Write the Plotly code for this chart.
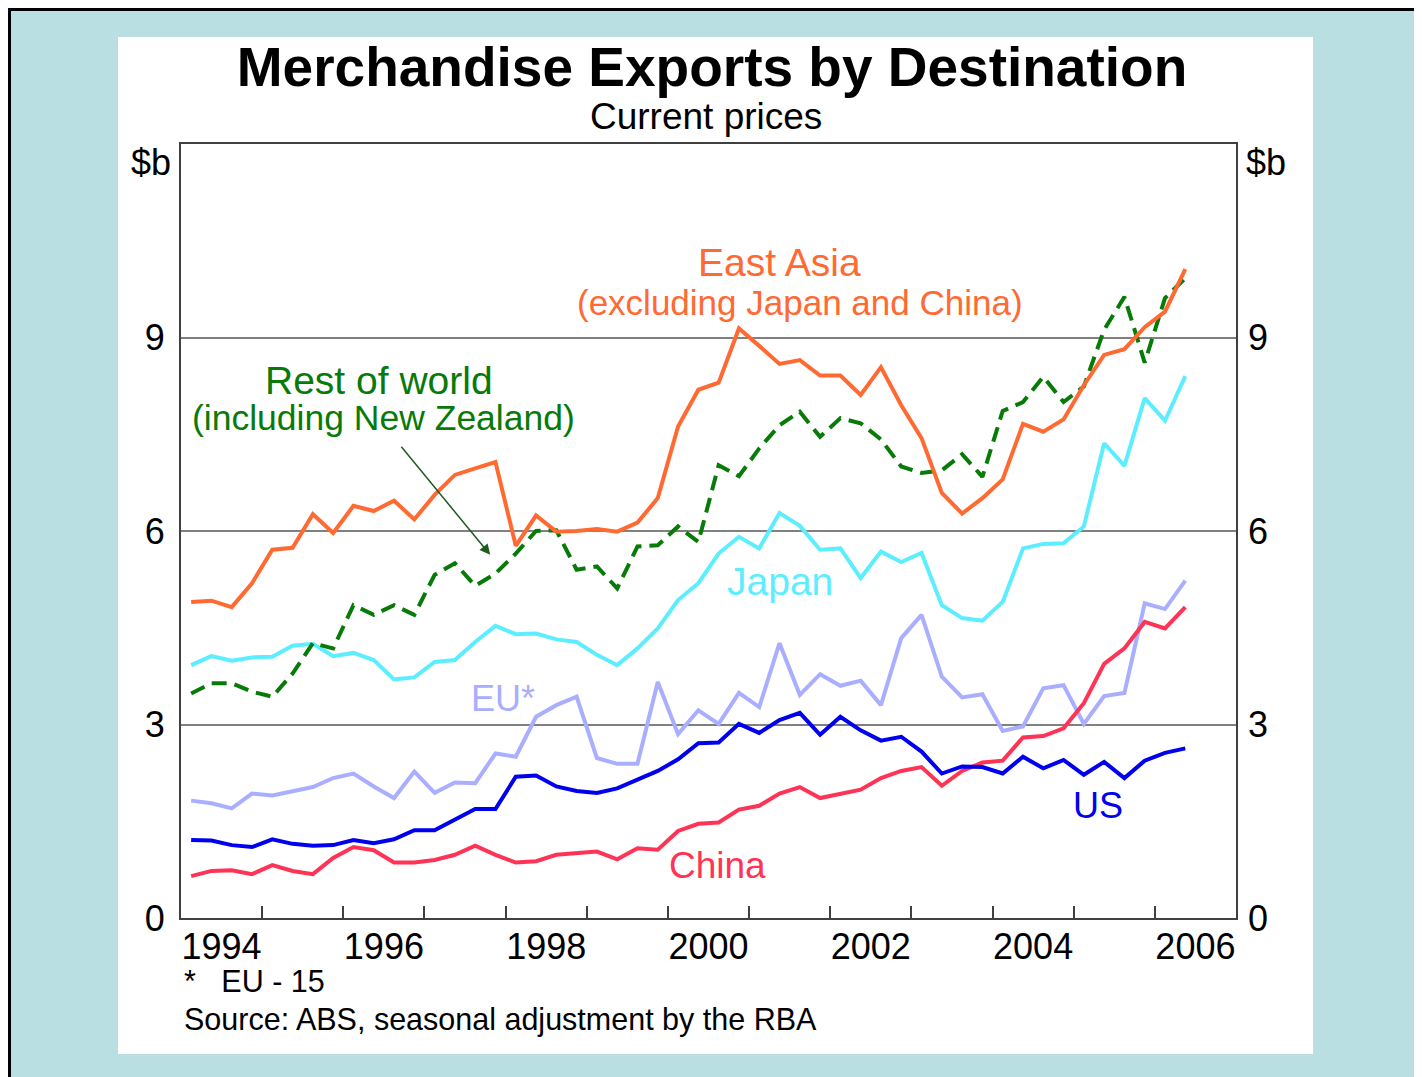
import plotly.graph_objects as go

# quarterly observations, March quarter 1994 to June quarter 2006 ($b, current prices)
start_year = 1994
n_quarters = 50
quarters = [start_year + 0.125 + 0.25 * i for i in range(n_quarters)]

east_asia = [4.90, 4.92, 4.82, 5.19, 5.71, 5.74, 6.26, 5.97, 6.39, 6.31,
             6.47, 6.18, 6.56, 6.87, 6.97, 7.07, 5.77, 6.24, 5.99, 6.00,
             6.03, 5.99, 6.13, 6.51, 7.62, 8.19, 8.30, 9.14, 8.87, 8.59,
             8.65, 8.41, 8.41, 8.11, 8.54, 7.95, 7.44, 6.59, 6.27, 6.51,
             6.80, 7.66, 7.54, 7.73, 8.26, 8.73, 8.82, 9.16, 9.40, 10.06]
rest_of_world = [3.48, 3.64, 3.64, 3.51, 3.43, 3.79, 4.26, 4.18, 4.85, 4.70,
                 4.85, 4.70, 5.32, 5.50, 5.15, 5.34, 5.65, 6.00, 6.01, 5.40,
                 5.45, 5.11, 5.76, 5.78, 6.07, 5.83, 7.02, 6.85, 7.28, 7.64,
                 7.85, 7.46, 7.75, 7.67, 7.42, 7.00, 6.90, 6.94, 7.19, 6.84,
                 7.86, 8.00, 8.39, 8.00, 8.24, 9.12, 9.63, 8.61, 9.61, 9.92]
japan = [3.92, 4.06, 3.99, 4.04, 4.05, 4.22, 4.25, 4.06, 4.11, 4.00,
         3.70, 3.73, 3.97, 4.00, 4.28, 4.53, 4.40, 4.41, 4.32, 4.28,
         4.08, 3.92, 4.18, 4.49, 4.93, 5.19, 5.65, 5.91, 5.73, 6.28,
         6.08, 5.71, 5.73, 5.27, 5.68, 5.52, 5.66, 4.85, 4.65, 4.61,
         4.90, 5.73, 5.80, 5.81, 6.07, 7.36, 7.01, 8.06, 7.71, 8.40]
eu = [1.82, 1.78, 1.70, 1.93, 1.90, 1.96, 2.03, 2.17, 2.24, 2.04,
      1.86, 2.27, 1.94, 2.10, 2.09, 2.55, 2.50, 3.12, 3.30, 3.43,
      2.48, 2.39, 2.39, 3.66, 2.85, 3.22, 3.01, 3.49, 3.27, 4.26,
      3.46, 3.78, 3.60, 3.68, 3.30, 4.34, 4.70, 3.74, 3.42, 3.47,
      2.90, 2.97, 3.56, 3.61, 3.01, 3.44, 3.49, 4.88, 4.79, 5.23]
us = [1.21, 1.20, 1.13, 1.10, 1.22, 1.15, 1.12, 1.13, 1.21, 1.16,
      1.22, 1.36, 1.36, 1.53, 1.69, 1.69, 2.19, 2.21, 2.04, 1.97,
      1.94, 2.01, 2.15, 2.28, 2.46, 2.71, 2.72, 3.01, 2.87, 3.07,
      3.18, 2.84, 3.12, 2.91, 2.75, 2.81, 2.58, 2.24, 2.35, 2.34,
      2.24, 2.50, 2.32, 2.45, 2.22, 2.42, 2.17, 2.44, 2.56, 2.63]
china = [0.65, 0.73, 0.74, 0.68, 0.82, 0.73, 0.68, 0.93, 1.10, 1.05,
         0.86, 0.86, 0.90, 0.98, 1.12, 0.98, 0.86, 0.88, 0.98, 1.00,
         1.03, 0.91, 1.08, 1.06, 1.35, 1.46, 1.48, 1.68, 1.74, 1.93,
         2.03, 1.86, 1.93, 1.99, 2.17, 2.28, 2.34, 2.05, 2.28, 2.41,
         2.44, 2.80, 2.82, 2.94, 3.33, 3.94, 4.18, 4.59, 4.49, 4.82]

year_ticks = list(range(1995, 2007))
year_labels = ["1994", "1996", "1998", "2000", "2002", "2004", "2006"]
year_label_pos = [int(y) + 0.5 for y in year_labels]
y_ticks = [0, 3, 6, 9]

FONT = "Liberation Sans, Arial, sans-serif"
ORANGE = "#FF6A33"
GREEN = "#087A08"
CYAN = "#5CEEFF"
LAVENDER = "#A9AEFF"
BLUE = "#0000EE"
RED = "#FF3355"

fig = go.Figure()

series = [
    (eu, LAVENDER, "solid"),
    (japan, CYAN, "solid"),
    (china, RED, "solid"),
    (us, BLUE, "solid"),
    (rest_of_world, GREEN, "15px,8px"),
    (east_asia, ORANGE, "solid"),
]
for vals, col, dash in series:
    fig.add_trace(go.Scatter(x=quarters, y=vals, mode="lines",
                             line=dict(color=col, width=4, dash=dash),
                             showlegend=False, hoverinfo="skip"))

# dummy trace so the label axes (x2 / right y2) get drawn
fig.add_trace(go.Scatter(x=[2000], y=[6], xaxis="x2", yaxis="y2", mode="markers",
                         marker=dict(opacity=0), showlegend=False, hoverinfo="skip"))

# page pixel -> paper coords (plot area spans 181..1236 x 144..918 on the page)
px = lambda v: (v - 181) / 1055
py = lambda v: (918 - v) / 774
shapes = [
    dict(type="rect", xref="paper", yref="paper", x0=px(118), x1=px(1313),
         y0=py(1054), y1=py(37), fillcolor="white", line=dict(width=0), layer="below"),
    dict(type="line", xref="paper", yref="paper", x0=px(8), x1=px(1422),
         y0=py(9.5), y1=py(9.5), line=dict(color="black", width=3)),
    dict(type="line", xref="paper", yref="paper", x0=px(9.5), x1=px(9.5),
         y0=py(1077), y1=py(8), line=dict(color="black", width=3)),
]


def note(text, x, y, size, color, **kw):
    d = dict(text=text, x=x, y=y, showarrow=False, xanchor="center", yanchor="middle",
             font=dict(size=size, family=FONT, color=color))
    d.update(kw)
    return d


paper = dict(xref="paper", yref="paper")
annotations = [
    note("Current prices", px(706), py(117), 37, "black", **paper),
    note("$b", px(151), py(162), 36, "black", **paper),
    note("$b", px(1266), py(162), 36, "black", **paper),
    note("East Asia", 2001.38, 10.16, 39, ORANGE),
    note("(excluding Japan and China)", 2001.63, 9.55, 35, ORANGE),
    note("Rest of world", 1996.44, 8.34, 39, GREEN),
    note("(including New Zealand)", 1996.49, 7.75, 35.5, GREEN),
    note("Japan", 2001.38, 5.21, 39, CYAN),
    note("EU*", 1997.97, 3.41, 36, LAVENDER),
    note("US", 2005.30, 1.74, 36, BLUE),
    note("China", 2000.61, 0.81, 37, RED),
    dict(text="", x=1997.81, y=5.63, ax=1996.70, ay=7.33, axref="x", ayref="y",
         showarrow=True, arrowhead=2, arrowsize=1.4, arrowwidth=1.5, arrowcolor="#1F5A1F"),
    note("*&nbsp;&nbsp;&nbsp;EU - 15", px(182), py(981), 30.5, "black",
         xanchor="left", **paper),
    note("Source: ABS, seasonal adjustment by the RBA", px(182), py(1019), 30.5, "black",
         xanchor="left", **paper),
]

# the page body has an 8px margin, so the figure is sized to fill the rest
fig.update_layout(
    width=1414, height=1069,
    margin=dict(l=173, r=186, t=136, b=159),
    paper_bgcolor="#BADFE2",
    plot_bgcolor="white",
    title=dict(text="<b>Merchandise Exports by Destination</b>", x=704 / 1414, y=1 - 59 / 1069,
               xanchor="center", yanchor="middle", font=dict(size=55, family=FONT, color="black")),
    font=dict(family=FONT, color="black"),
    shapes=shapes,
    annotations=annotations,
    xaxis=dict(range=[1994, 2007], tickvals=year_ticks, showticklabels=False,
               ticks="inside", ticklen=12, tickwidth=1.5, tickcolor="#404040",
               showgrid=False, zeroline=False, showline=True, mirror=True,
               linecolor="#404040", linewidth=2),
    xaxis2=dict(range=[1994, 2007], overlaying="x", side="bottom", tickvals=year_label_pos,
                ticktext=year_labels, ticks="", showgrid=False, zeroline=False,
                showline=False, ticklabelstandoff=4,
                tickfont=dict(size=36, family=FONT, color="black")),
    yaxis=dict(range=[0, 12], tickvals=y_ticks, ticks="", showgrid=True,
               gridcolor="#808080", gridwidth=1.5, zeroline=False, showline=True,
               mirror=True, linecolor="#404040", linewidth=2, ticklabelstandoff=7,
               tickfont=dict(size=36, family=FONT, color="black")),
    yaxis2=dict(range=[0, 12], overlaying="y", side="right", tickvals=y_ticks, ticks="",
                showgrid=False, zeroline=False, showline=False, ticklabelstandoff=11,
                tickfont=dict(size=36, family=FONT, color="black")),
)

fig.write_html("out.html")
